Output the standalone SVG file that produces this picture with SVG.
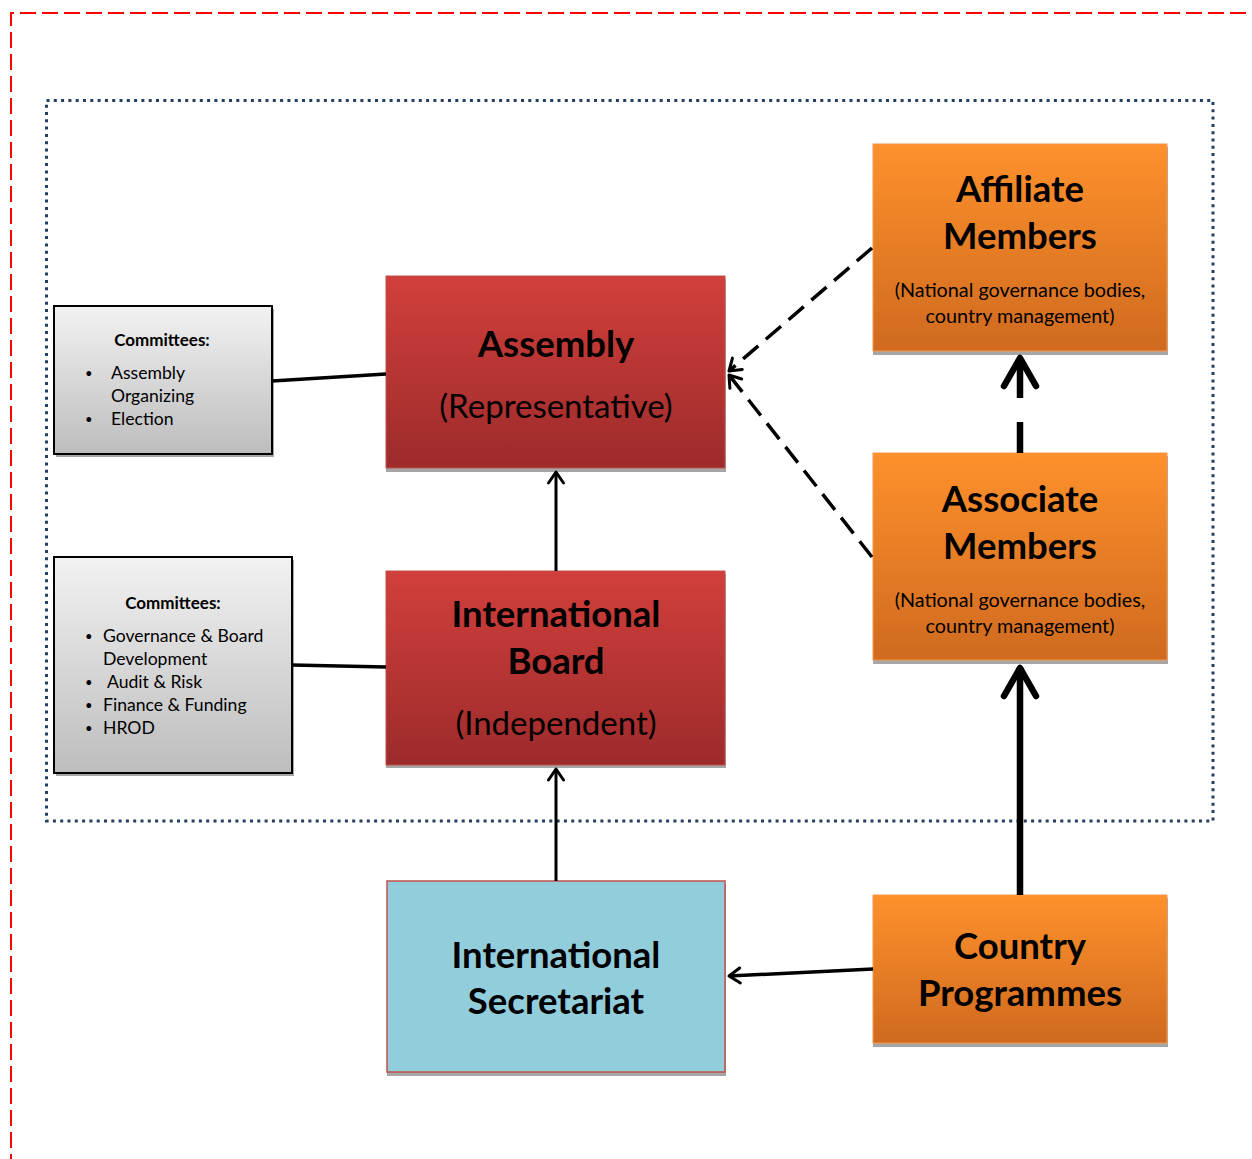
<svg xmlns="http://www.w3.org/2000/svg" width="1252" height="1159" viewBox="0 0 1252 1159">
<defs>
<linearGradient id="gRed" x1="0" y1="0" x2="0" y2="1"><stop offset="0" stop-color="#d13f3b"/><stop offset="1" stop-color="#9d2b2c"/></linearGradient>
<linearGradient id="gOrange" x1="0" y1="0" x2="0" y2="1"><stop offset="0" stop-color="#fe912c"/><stop offset="1" stop-color="#cf6a1f"/></linearGradient>
<linearGradient id="gGray" x1="0" y1="0" x2="0" y2="1"><stop offset="0" stop-color="#f2f2f2"/><stop offset="1" stop-color="#bdbdbd"/></linearGradient>
<marker id="chev" markerUnits="userSpaceOnUse" markerWidth="30" markerHeight="30" viewBox="-15 -15 30 30" refX="0" refY="0" orient="auto" overflow="visible">
<polyline points="-11,-7.5 0,0 -11,7.5" fill="none" stroke="#000" stroke-width="3" stroke-linecap="round" stroke-linejoin="round"/>
</marker>
</defs>
<style>
.shadow{fill:#a6a6a6}
.red{fill:url(#gRed);stroke:#c0504d;stroke-width:1}
.orange{fill:url(#gOrange);stroke:#f79646;stroke-width:1}
.gray{fill:url(#gGray);stroke:#000;stroke-width:2}
.title{font-family:Lato,"Liberation Sans",sans-serif;font-weight:bold;font-size:36.5px;fill:#000;text-anchor:middle}
.sub{font-family:Lato,"Liberation Sans",sans-serif;font-size:33px;fill:#000;text-anchor:middle}
.small{font-family:Lato,"Liberation Sans",sans-serif;font-size:19.8px;fill:#000;text-anchor:middle}
.cm{font-family:Lato,"Liberation Sans",sans-serif;font-size:17.6px;fill:#000}
.bul{font-family:Lato,"Liberation Sans",sans-serif;font-size:13px;fill:#000}
.cmb{font-family:Lato,"Liberation Sans",sans-serif;font-size:17px;font-weight:bold;fill:#000;text-anchor:middle}
.conn{stroke:#000;fill:none}
</style>
<rect width="1252" height="1159" fill="#fff"/>
<!-- outer borders -->
<path d="M11,1170 L11,13 L1260,13" fill="none" stroke="#ff0000" stroke-width="2" stroke-dasharray="16,6"/>
<rect x="46.5" y="100.5" width="1166.5" height="720.5" fill="none" stroke="#243f60" stroke-width="3" stroke-dasharray="3,4.3"/>

<g id="committees1">
<rect class="shadow" x="56" y="309" width="218" height="148"/>
<rect class="gray" x="54" y="306" width="218" height="148"/>
<text class="cmb" x="162" y="346">Committees:</text>
<text class="bul" x="85" y="378">•</text><text class="cm" x="111" y="379">Assembly</text>
<text class="cm" x="111" y="402">Organizing</text>
<text class="bul" x="85" y="424">•</text><text class="cm" x="111" y="425">Election</text>
</g>
<g id="committees2">
<rect class="shadow" x="56" y="560" width="238" height="216"/>
<rect class="gray" x="54" y="557" width="238" height="216"/>
<text class="cmb" x="173" y="609">Committees:</text>
<text class="bul" x="85" y="641">•</text><text class="cm" x="103" y="642">Governance &amp; Board</text>
<text class="cm" x="103" y="665">Development</text>
<text class="bul" x="85" y="687">•</text><text class="cm" x="107" y="688">Audit &amp; Risk</text>
<text class="bul" x="85" y="710">•</text><text class="cm" x="103" y="711">Finance &amp; Funding</text>
<text class="bul" x="85" y="733">•</text><text class="cm" x="103" y="734">HROD</text>
</g>
<g id="assembly">
<rect class="shadow" x="386" y="279" width="340" height="193"/>
<rect class="red" x="386" y="276" width="339" height="192"/>
<text class="title" x="556" y="357">Assembly</text>
<text class="sub" x="556" y="418">(Representative)</text>
</g>
<g id="board">
<rect class="shadow" x="386" y="574" width="340" height="194"/>
<rect class="red" x="386" y="571" width="339" height="194"/>
<text class="title" x="556" y="627">International</text>
<text class="title" x="556" y="674">Board</text>
<text class="sub" x="556" y="735">(Independent)</text>
</g>
<g id="affiliate">
<rect class="shadow" x="873" y="147" width="295" height="208"/>
<rect class="orange" x="873" y="144" width="294" height="207"/>
<text class="title" x="1020" y="202">Affiliate</text>
<text class="title" x="1020" y="249">Members</text>
<text class="small" x="1020" y="297">(National governance bodies,</text>
<text class="small" x="1020" y="323">country management)</text>
</g>
<g id="associate">
<rect class="shadow" x="873" y="456" width="295" height="208"/>
<rect class="orange" x="873" y="453" width="294" height="207"/>
<text class="title" x="1020" y="512">Associate</text>
<text class="title" x="1020" y="559">Members</text>
<text class="small" x="1020" y="607">(National governance bodies,</text>
<text class="small" x="1020" y="633">country management)</text>
</g>
<g id="secretariat">
<rect class="shadow" x="387" y="884" width="339" height="192"/>
<rect x="387" y="881" width="338" height="191" fill="#92cddc" stroke="#c0504d" stroke-width="1.5"/>
<text class="title" x="556" y="968">International</text>
<text class="title" x="556" y="1014">Secretariat</text>
</g>
<g id="country">
<rect class="shadow" x="873" y="898" width="295" height="149"/>
<rect class="orange" x="873" y="895" width="294" height="148"/>
<text class="title" x="1020" y="959">Country</text>
<text class="title" x="1020" y="1006">Programmes</text>
</g>

<g id="connectors">
<line class="conn" x1="272" y1="381" x2="386" y2="374" stroke-width="3.5"/>
<line class="conn" x1="292" y1="665" x2="386" y2="667" stroke-width="3.5"/>
<line class="conn" x1="556" y1="571" x2="556" y2="472" stroke-width="3" marker-end="url(#chev)"/>
<line class="conn" x1="556" y1="881" x2="556" y2="769" stroke-width="3" marker-end="url(#chev)"/>
<line class="conn" x1="873" y1="969" x2="729" y2="976" stroke-width="3.5" marker-end="url(#chev)"/>
<line class="conn" x1="872" y1="248" x2="729" y2="371" stroke-width="3.5" stroke-dasharray="20,10" marker-end="url(#chev)"/>
<line class="conn" x1="872" y1="557" x2="729" y2="375" stroke-width="3.5" stroke-dasharray="20,10" marker-end="url(#chev)"/>
<line class="conn" x1="1020" y1="895" x2="1020" y2="667" stroke-width="6.5"/>
<polyline class="conn" points="1004,696 1020,668 1036,696" stroke-width="6.5" stroke-linecap="round" stroke-linejoin="round"/>
<line class="conn" x1="1020" y1="453" x2="1020" y2="422" stroke-width="6.5"/>
<line class="conn" x1="1020" y1="398" x2="1020" y2="358" stroke-width="6.5"/>
<polyline class="conn" points="1004,386 1020,358 1036,386" stroke-width="6.5" stroke-linecap="round" stroke-linejoin="round"/>
</g>
</svg>
